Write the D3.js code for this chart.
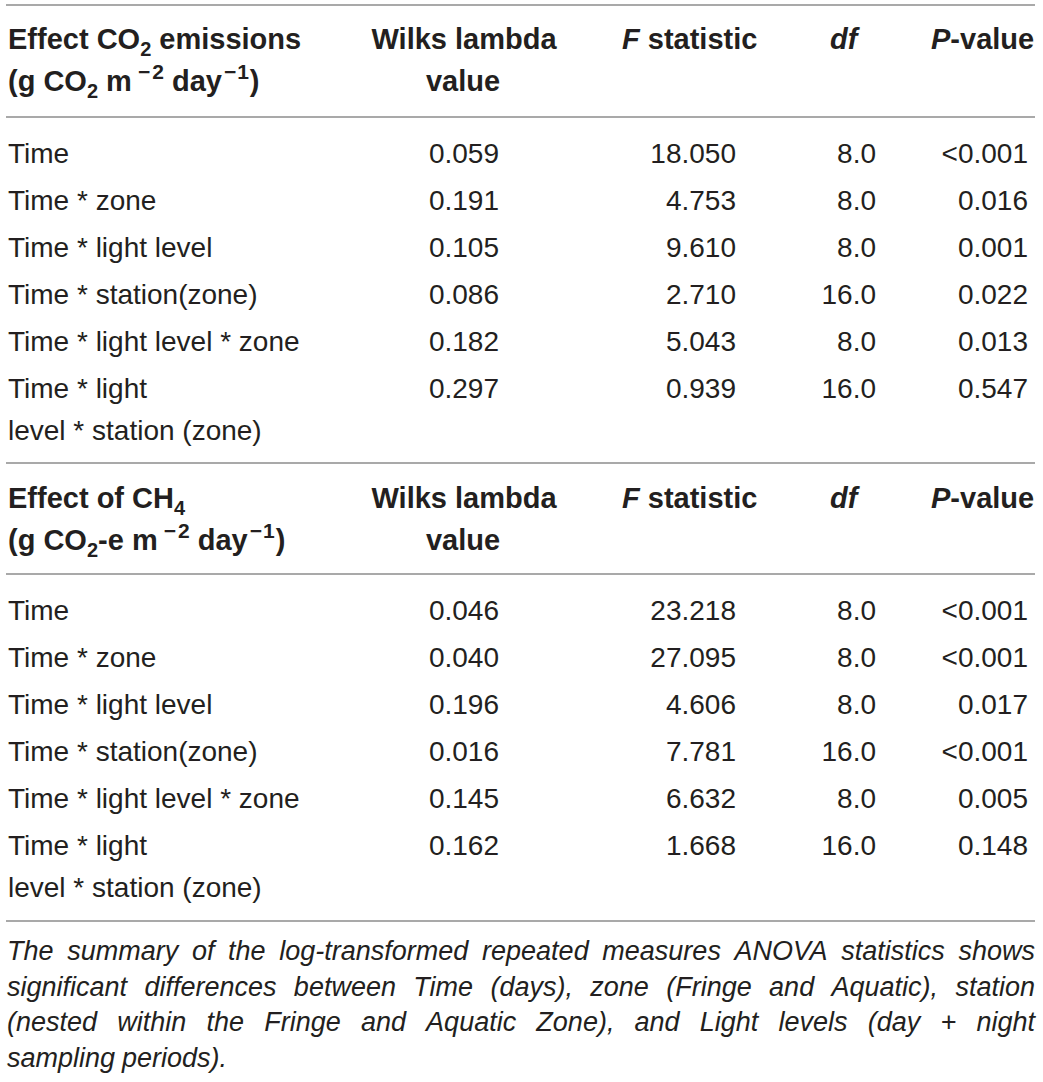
<!DOCTYPE html>
<html>
<head>
<meta charset="utf-8">
<script src="https://cdn.jsdelivr.net/npm/d3@7"></script>
<style>
  body { margin: 0; background: #fff; }
  svg text { font-family: "Liberation Sans", Arial, Helvetica, sans-serif; fill: #231f20; }
</style>
</head>
<body>
<div id="chart"></div>
<script>
/* ANOVA summary table for CO2 and CH4 emissions */

// row labels, shared by both blocks ("\n" = line break in the cell)
const effects = ["Time", "Time * zone", "Time * light level", "Time * station(zone)",
  "Time * light level * zone", "Time * light\nlevel * station (zone)"];

// CO2 block
const co2Wilks = ["0.059", "0.191", "0.105", "0.086", "0.182", "0.297"];
const co2F = ["18.050", "4.753", "9.610", "2.710", "5.043", "0.939"];
const co2Df = ["8.0", "8.0", "8.0", "16.0", "8.0", "16.0"];
const co2P = ["<0.001", "0.016", "0.001", "0.022", "0.013", "0.547"];

// CH4 block
const ch4Wilks = ["0.046", "0.040", "0.196", "0.016", "0.145", "0.162"];
const ch4F = ["23.218", "27.095", "4.606", "7.781", "6.632", "1.668"];
const ch4Df = ["8.0", "8.0", "8.0", "16.0", "8.0", "16.0"];
const ch4P = ["<0.001", "<0.001", "0.017", "<0.001", "0.005", "0.148"];

const footnoteLines = [
  "The summary of the log-transformed repeated measures ANOVA statistics shows",
  "significant differences between Time (days), zone (Fringe and Aquatic), station",
  "(nested within the Fringe and Aquatic Zone), and Light levels (day + night",
  "sampling periods)."
];

const width = 1043, height = 1082;
const fs = 28;            // body font size
const hfs = 29;           // header font size
const subFs = 20;         // subscript size
const supFs = 21;         // superscript size
const ruleLeft = 6, ruleRight = 1035;

let svg = d3.select("#chart")
  .append("svg")
  .attr("width", width)
  .attr("height", height)
  .attr("viewBox", [0, 0, width, height]);

/* right edges of the numeric columns */
const colRight = { wilks: 499, f: 736, df: 876, p: 1028 };

function rule(y) {
  svg.append("line")
    .attr("x1", ruleLeft).attr("x2", ruleRight)
    .attr("y1", y).attr("y2", y)
    .attr("stroke", "#8c8c8c")
    .attr("stroke-width", 1.6);
}

/* append a header text made of pieces: {t, i (italic), sub, sup, dx} */
function rich(x, y, parts, anchor) {
  let t = svg.append("text")
    .attr("x", x).attr("y", y)
    .attr("font-size", hfs)
    .attr("font-weight", "bold")
    .attr("text-anchor", anchor || "start");
  let shift = 0;
  parts.forEach(p => {
    let s = t.append("tspan").text(p.t);
    if (p.i) s.attr("font-style", "italic");
    if (p.dx) s.attr("dx", p.dx);
    let want = p.sub ? 7 : p.sup ? -12 : 0;
    if (want !== shift) { s.attr("dy", want - shift); shift = want; }
    if (p.sub) s.attr("font-size", subFs);
    if (p.sup) s.attr("font-size", supFs);
  });
  return t;
}

/* header of a block */
function header(y, line1, line2) {
  rich(8, y, line1);
  rich(8, y + 42, line2);
  rich(464, y, [{ t: "Wilks lambda" }], "middle");
  rich(463, y + 42, [{ t: "value" }], "middle");
  rich(622, y, [{ t: "F", i: 1 }, { t: " statistic" }]);
  rich(830, y, [{ t: "df", i: 1 }]);
  rich(931, y, [{ t: "P", i: 1 }, { t: "-value" }]);
}

/* body of a block, rows placed by a linear scale on the row index */
function body(y0, wilks, fv, df, pv) {
  let y = d3.scaleLinear().domain([0, effects.length - 1]).range([y0, y0 + 47 * (effects.length - 1)]);
  let rows = effects.map((e, i) => ({ e, w: wilks[i], f: fv[i], df: df[i], p: pv[i], i }));

  let g = svg.append("g").attr("font-size", fs);
  let row = g.selectAll(".row")
    .data(rows)
    .join("g")
    .attr("class", "row")
    .attr("transform", d => `translate(0,${y(d.i)})`);

  row.append("text")
    .attr("x", 8)
    .selectAll("tspan")
    .data(d => d.e.split("\n"))
    .join("tspan")
    .attr("x", 8)
    .attr("dy", (d, k) => k === 0 ? 0 : 42)
    .text(d => d);

  [["w", colRight.wilks], ["f", colRight.f], ["df", colRight.df], ["p", colRight.p]].forEach(([k, x]) => {
    row.append("text")
      .attr("x", x)
      .attr("text-anchor", "end")
      .text(d => d[k]);
  });
}

const minus2 = [{ t: "\u2212", sup: 1, dx: 6 }, { t: "2", sup: 1, dx: 2 }];
const minus1 = [{ t: "\u2212", sup: 1, dx: 2 }, { t: "1", sup: 1, dx: 1 }];

/* CO2 block */
rule(5);
header(49,
  [{ t: "Effect CO" }, { t: "2", sub: 1 }, { t: " emissions" }],
  [{ t: "(g CO" }, { t: "2", sub: 1 }, { t: " m" }, ...minus2,
   { t: " day" }, ...minus1, { t: ")", dx: 1 }]);
rule(117);
body(163, co2Wilks, co2F, co2Df, co2P);

/* CH4 block */
rule(463);
header(508,
  [{ t: "Effect of CH" }, { t: "4", sub: 1 }],
  [{ t: "(g CO" }, { t: "2", sub: 1 }, { t: "-e m" }, ...minus2,
   { t: " day" }, ...minus1, { t: ")", dx: 1 }]);
rule(574);
body(620, ch4Wilks, ch4F, ch4Df, ch4P);
rule(921);

/* footnote, justified by hand */
const noteX = 7, noteW = ruleRight - noteX;
let note = svg.append("g")
  .attr("font-size", 27)
  .attr("font-style", "italic");

footnoteLines.forEach((line, li) => {
  let yb = 960 + li * 35.7;
  let words = line.split(" ");
  let nodes = words.map(w => note.append("text").attr("y", yb).text(w));
  let widths = nodes.map(n => n.node().getComputedTextLength());
  let total = d3.sum(widths);
  let last = li === footnoteLines.length - 1;
  let gap = last ? 7 : (noteW - total) / (words.length - 1);
  let x = noteX;
  nodes.forEach((n, k) => { n.attr("x", x); x += widths[k] + gap; });
});
</script>
</body>
</html>
